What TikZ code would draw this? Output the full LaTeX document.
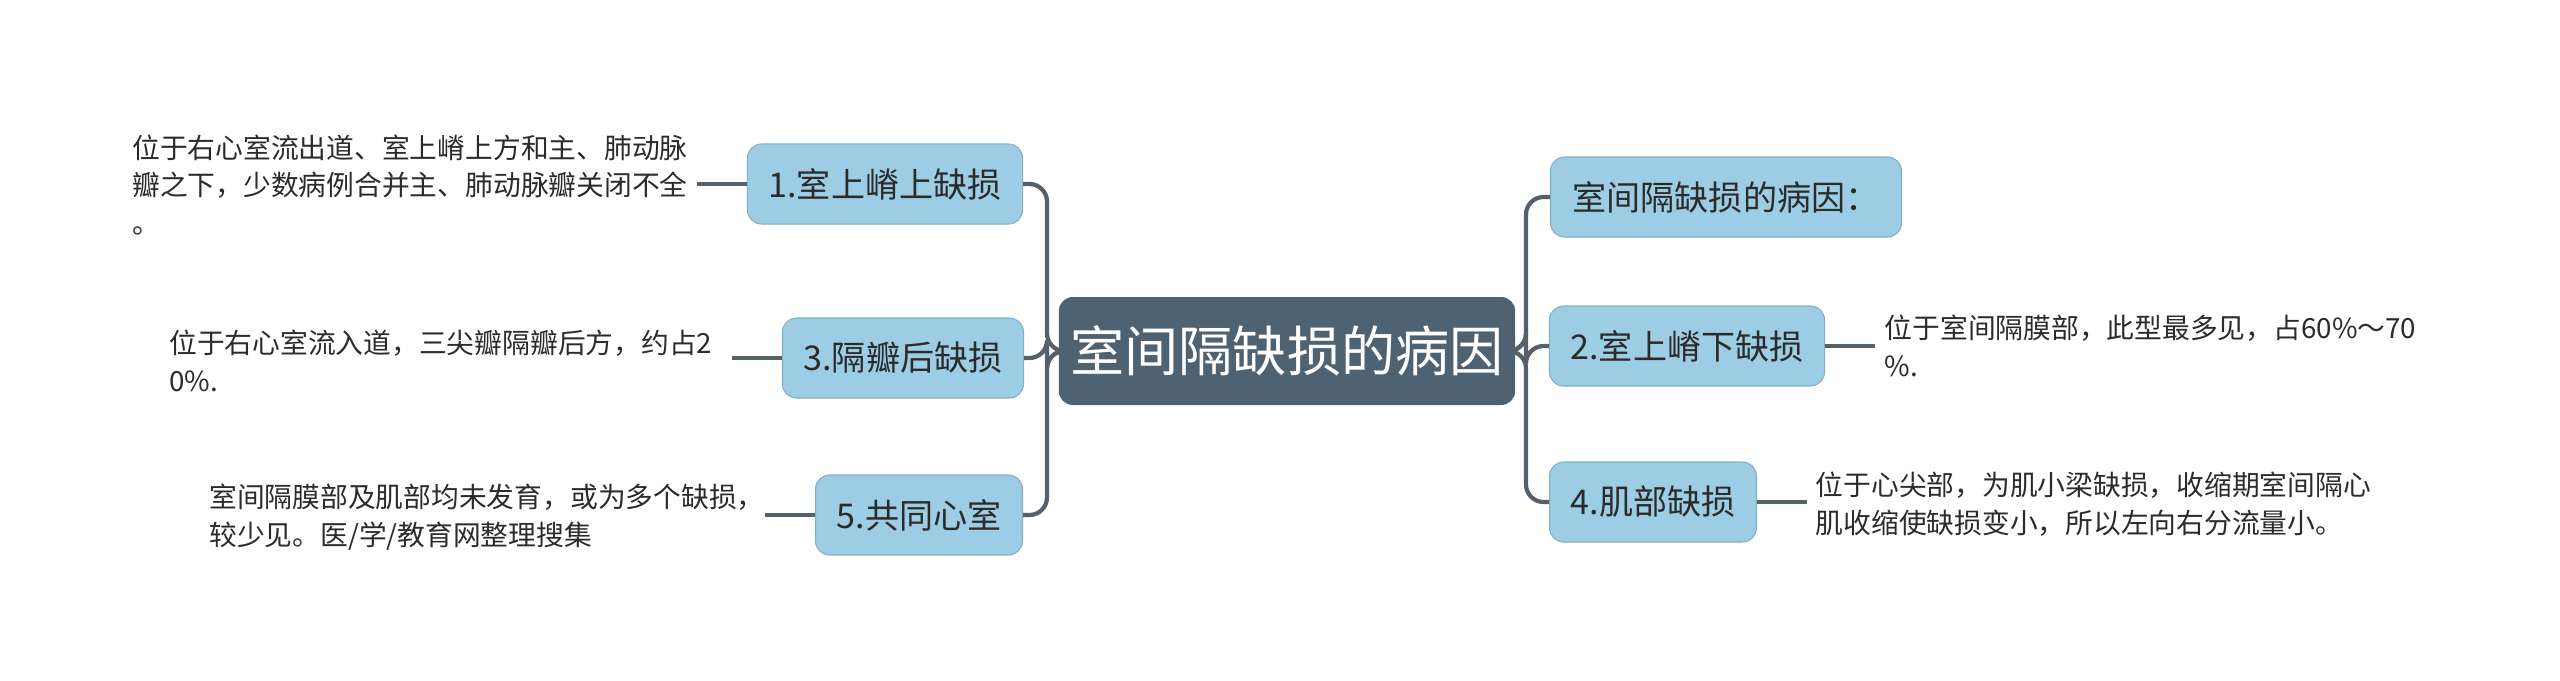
\documentclass[tikz,border=0pt]{standalone}
\usepackage{fontspec}
\setmainfont{Noto Sans CJK SC}
\usetikzlibrary{positioning}
\definecolor{hubfill}{HTML}{4F6272}
\definecolor{twigfill}{HTML}{9CCDE4}
\definecolor{linkcol}{HTML}{56606B}
\definecolor{inkcol}{HTML}{2B2B2B}
\tikzset{
  hub/.style={fill=hubfill, rounded corners=4pt, text=white, minimum width=4.23cm,
    minimum height=1.08cm, font=\fontsize{15.4}{18}\selectfont},
  twig/.style={fill=twigfill, draw=twigfill!85!black, line width=.3pt, rounded corners=4pt,
    text=inkcol, minimum height=.8cm, inner xsep=6pt, font=\fontsize{9.7}{12}\selectfont},
  leaf/.style={inner sep=0pt, align=left, text=inkcol, font=\fontsize{7.9}{10.8}\selectfont},
  link/.style={draw=linkcol, line width=1.2pt, rounded corners=5pt},
}
\begin{document}
\begin{tikzpicture}
    \useasboundingbox (0,0) rectangle (25.6,6.8);
    \node[hub] (root) at (12.87,3.29) {室间隔缺损的病因};
    % right side
    \node[twig, minimum width=3.51cm] (cause) at (17.26,4.83) {室间隔缺损的病因：};
    \node[twig, minimum width=2.74cm] (low) at (16.87,3.34) {2.室上嵴下缺损};
    \node[twig, minimum width=2.03cm] (musc) at (16.53,1.78) {4.肌部缺损};
    % left side
    \node[twig, minimum width=2.74cm] (high) at (8.85,4.96) {1.室上嵴上缺损};
    \node[twig, minimum width=2.40cm] (back) at (9.03,3.22) {3.隔瓣后缺损};
    \node[twig, minimum width=2.05cm] (common) at (9.19,1.65) {5.共同心室};
    % leaves
    \node[leaf, anchor=east, text width=5.6cm] (highT) at (6.93,4.95)
      {位于右心室流出道、室上嵴上方和主、肺动脉\\瓣之下，少数病例合并主、肺动脉瓣关闭不全\\。};
    \node[leaf, anchor=east, text width=5.45cm] (backT) at (7.15,3.19)
      {位于右心室流入道，三尖瓣隔瓣后方，约占2\\0\%.};
    \node[leaf, anchor=east, text width=5.45cm] (commonT) at (7.55,1.63)
      {室间隔膜部及肌部均未发育，或为多个缺损，\\较少见。医/学/教育网整理搜集};
    \node[leaf, anchor=west, text width=5.4cm] (lowT) at (18.84,3.34)
      {位于室间隔膜部，此型最多见，占60\%～70\\\%.};
    \node[leaf, anchor=west, text width=5.6cm] (muscT) at (18.15,1.76)
      {位于心尖部，为肌小梁缺损，收缩期室间隔心\\肌收缩使缺损变小，所以左向右分流量小。};
    % links
    \coordinate (rj) at (15.26,3.29);
    \coordinate (lj) at (10.47,3.29);
    \foreach \t in {cause,low,musc}
      \draw[link] (root.east) -- (rj) |- (\t.west);
    \foreach \t in {high,back,common}
      \draw[link] (root.west) -- (lj) |- (\t.east);
    \draw[link] (high.west) -- ++(-.5,0);
    \draw[link] (back.west) -- ++(-.5,0);
    \draw[link] (common.west) -- ++(-.5,0);
    \draw[link] (low.east) -- ++(.5,0);
    \draw[link] (musc.east) -- ++(.5,0);
\end{tikzpicture}
\end{document}
